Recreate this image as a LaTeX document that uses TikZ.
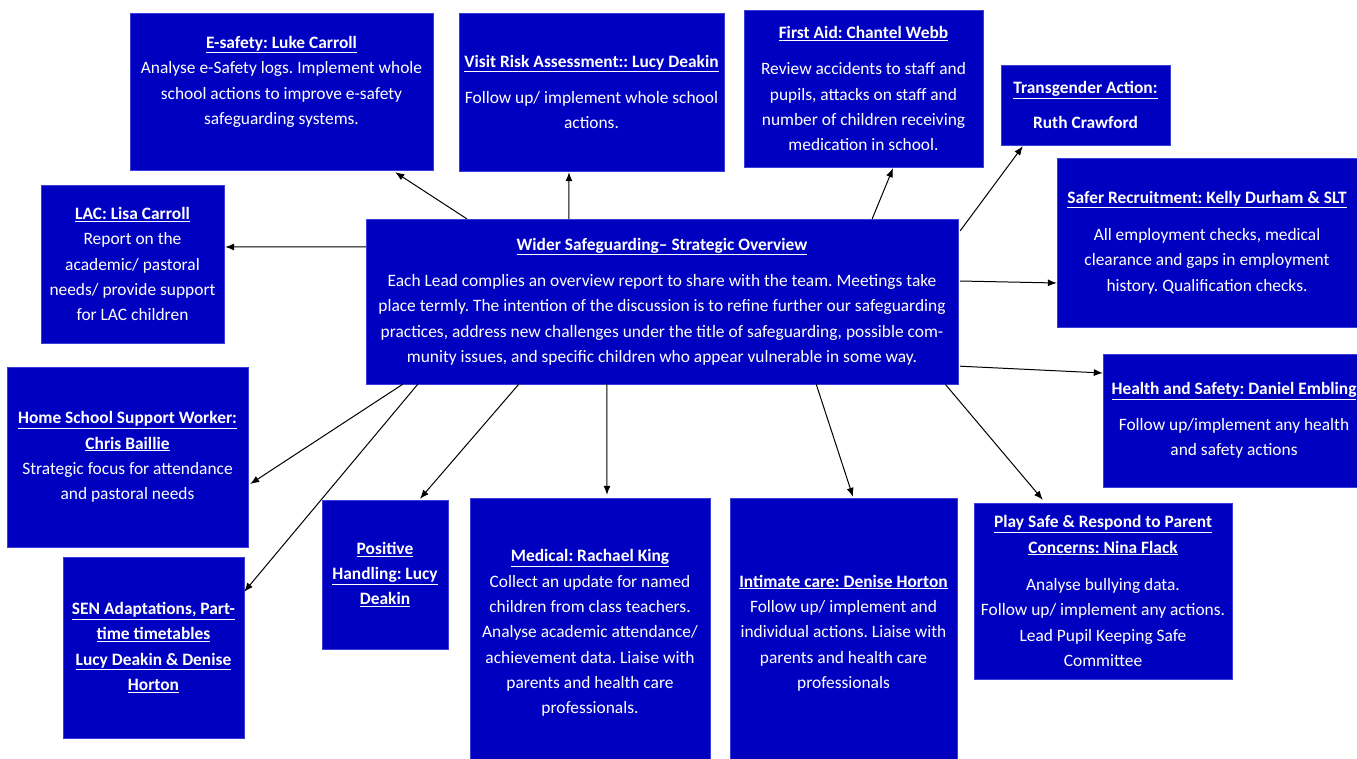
\documentclass[tikz,border=0pt]{standalone}
\usepackage{fontspec}
\setmainfont{Carlito}
\usepackage{tikz}
\usetikzlibrary{arrows.meta,calc}

\definecolor{boxblue}{RGB}{0,0,192}
\definecolor{edgeblue}{RGB}{60,60,215}

\tikzset{
  box/.style={draw=edgeblue, fill=boxblue, text=white, align=center, inner sep=2pt,
    font=\fontsize{17.4}{25.3}\selectfont},
}
\newcommand{\ttl}[1]{\underline{\textbf{#1}}}
\frenchspacing

\begin{document}
\begin{tikzpicture}[x=1pt, y=-1pt, >={Latex[length=9pt,width=7pt]}]
        \useasboundingbox (0,0) rectangle (1357,758);

        \node[box, minimum width=592, minimum height=165] (wider) at (662,301.5) {\ttl{Wider Safeguarding– Strategic Overview}\\[11pt]
        Each Lead complies an overview report to share with the team. Meetings take\\
        place termly. The intention of the discussion is to refine further our safeguarding\\
        practices, address new challenges under the title of safeguarding, possible com-\\
        munity issues, and specific children who appear vulnerable in some way.};

        \node[box, minimum width=303, minimum height=157] (esafety) at (281.5,91.5) {\ttl{E-safety: Luke Carroll}\\
        Analyse e-Safety logs. Implement whole\\ school actions to improve e-safety\\ safeguarding systems.\\[-3pt]\mbox{}};
        \node[box, minimum width=265, minimum height=158] (visit) at (591.5,92) {\ttl{Visit Risk Assessment:: Lucy Deakin}\\[11pt]
        Follow up/ implement whole school\\ actions.};
        \node[box, minimum width=239, minimum height=157] (firstaid) at (863.5,88.5) {\ttl{First Aid: Chantel Webb}\\[11pt]
        Review accidents to staff and\\ pupils, attacks on staff and\\ number of children receiving\\ medication in school.};
        \node[box, minimum width=169, minimum height=80] (trans) at (1085.5,105) {\ttl{Transgender Action:}\\[10pt]
        \textbf{Ruth Crawford}};
        \node[box, minimum width=300, minimum height=169] (safer) at (1207,242.5) {\ttl{Safer Recruitment: Kelly Durham \& SLT}\\[12pt]
        All employment checks, medical\\ clearance and gaps in employment\\ history. Qualification checks.};
        \node[box, minimum width=262, minimum height=133] (health) at (1234,420.5) {\ttl{Health and Safety: Daniel Embling}\\[10pt]
        Follow up/implement any health\\ and safety actions};
        \node[box, minimum width=183, minimum height=158] (lac) at (132.5,264) {\ttl{LAC: Lisa Carroll}\\
        Report on the\\ academic/ pastoral\\ needs/ provide support\\ for LAC children};
        \node[box, minimum width=241, minimum height=180] (home) at (127.5,457) {\ttl{Home School Support Worker:}\\ \ttl{Chris Baillie}\\
        Strategic focus for attendance\\ and pastoral needs};
        \node[box, minimum width=181, minimum height=181] (sen) at (153.5,647.5) {\ttl{SEN Adaptations, Part-}\\ \ttl{time timetables}\\
        \ttl{Lucy Deakin \& Denise}\\ \ttl{Horton}};
        \node[box, minimum width=126, minimum height=149] (pos) at (385,574.5) {\ttl{Positive}\\ \ttl{Handling: Lucy}\\ \ttl{Deakin}};
        \node[box, minimum width=240, minimum height=270] (medical) at (590,633) {\ttl{Medical: Rachael King}\\
        Collect an update for named\\ children from class teachers.\\ Analyse academic attendance/\\
        achievement data. Liaise with\\ parents and health care\\ professionals.};
        \node[box, minimum width=227, minimum height=270] (intimate) at (843.5,633) {\ttl{Intimate care: Denise Horton}\\
        Follow up/ implement and\\ individual actions. Liaise with\\ parents and health care\\ professionals};
        \node[box, minimum width=258, minimum height=176] (play) at (1103,591) {\ttl{Play Safe \& Respond to Parent}\\ \ttl{Concerns: Nina Flack}\\[12pt]
        Analyse bullying data.\\ Follow up/ implement any actions.\\ Lead Pupil Keeping Safe\\ Committee};

        \draw[->, line width=1pt] ($(wider.north west)+(101,0)$) -- ($(esafety.south east)+(-38,2)$);
        \draw[->, line width=1pt] ($(wider.north west)+(203,0)$) -- ($(visit.south)+(-22.5,1)$);
        \draw[->, line width=1pt] ($(wider.north east)+(-86,0)$) -- ($(firstaid.south)+(29.5,1)$);
        \draw[->, line width=1pt] ($(wider.north east)+(2,12)$) -- ($(trans.south west)+(22,1)$);
        \draw[->, line width=1pt] ($(wider.east)+(2,-20.5)$) -- ($(safer.west)+(0,40.5)$);
        \draw[->, line width=1pt] ($(wider.south east)+(2,-18)$) -- ($(health.west)+(0,-47.5)$);
        \draw[->, line width=1pt] ($(wider.north west)+(0,28)$) -- ($(lac.east)+(1,-17)$);
        \draw[->, line width=1pt] ($(wider.south west)+(37,0)$) -- ($(home.east)+(2,27)$);
        \draw[->, line width=1pt] ($(wider.south west)+(52,0)$) -- ($(sen.north east)+(0,35)$);
        \draw[->, line width=1pt] ($(wider.south west)+(153,0)$) -- ($(pos.north)+(35,-1)$);
        \draw[->, line width=1pt] ($(wider.south west)+(241,0)$) -- ($(medical.north)+(17,-3)$);
        \draw[->, line width=1pt] ($(wider.south east)+(-142,0)$) -- ($(intimate.north)+(9.5,-1)$);
        \draw[->, line width=1pt] ($(wider.south east)+(-13,0)$) -- ($(play.north west)+(69,-3)$);
\end{tikzpicture}
\end{document}
